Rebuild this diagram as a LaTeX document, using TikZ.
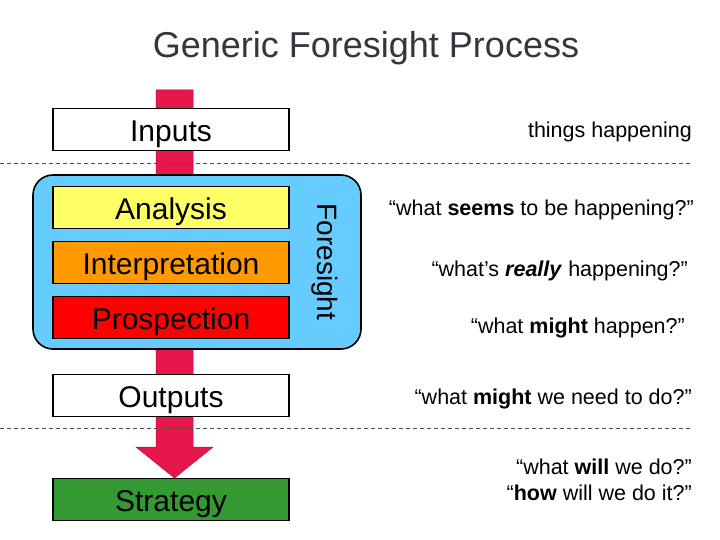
\documentclass[tikz,border=0pt]{standalone}
\usepackage{fontspec}
\setmainfont{Liberation Sans}
\usetikzlibrary{positioning,calc}
\definecolor{flowRed}{HTML}{E8174B}
\definecolor{foreBlue}{HTML}{66CCFF}
\definecolor{anaYellow}{HTML}{FFFF66}
\definecolor{intOrange}{HTML}{FF9900}
\definecolor{proRed}{HTML}{FF0000}
\definecolor{strGreen}{HTML}{339933}
\definecolor{titleGray}{HTML}{35353F}

\tikzset{
  stagebox/.style={draw=black,line width=1.6pt,minimum width=236pt,minimum height=42pt,inner sep=0pt,outer sep=0pt,text height=24pt,text depth=0pt,font=\fontsize{30}{34}\selectfont},
  question/.style={anchor=base east,inner sep=0pt,font=\fontsize{21.5}{26}\selectfont},
  divider/.style={draw=black!70,dash pattern=on 4pt off 3pt,line width=0.6pt},
}

\begin{document}
\begin{tikzpicture}[x=1pt,y=-1pt]
  \useasboundingbox (0,0) rectangle (720,540);
  \node[anchor=base,inner sep=0pt,font=\fontsize{36}{40}\selectfont,text=titleGray] (title) at (366,58) {Generic Foresight Process};

  % main flow arrow, behind everything else
  \coordinate (top) at (174.5,90);
  \coordinate (tip) at (174.5,478);
  \filldraw[fill=flowRed,draw=flowRed!75!black,line width=0.5pt]
    ($(top)+(-18.5,0)$) -- ($(tip)+(-18.5,-31)$) -- ($(tip)+(-38.5,-31)$) -- (tip)
    -- ($(tip)+(38.5,-31)$) -- ($(tip)+(18.5,-31)$) -- ($(top)+(18.5,0)$) -- cycle;

  % separators
  \draw[divider] (0,163) -- (692,163);
  \draw[divider] (0,428) -- (692,428);

  % foresight frame
  \node[draw=black,line width=1.6pt,fill=foreBlue,rounded corners=20pt,minimum width=328pt,minimum height=174pt] (fore) at (197,262) {};
  \node[rotate=-90,inner sep=0pt,font=\fontsize{28}{32}\selectfont] (foreLabel) at (325,262) {Foresight};

  % stages
  \node[stagebox,fill=white] (inputs) at (171,129.5) {Inputs};
  \node[stagebox,fill=anaYellow,below=36pt of inputs] (analysis) {Analysis};
  \node[stagebox,fill=intOrange,below=13pt of analysis] (interp) {Interpretation};
  \node[stagebox,fill=proRed,below=13pt of interp] (prosp) {Prospection};
  \node[stagebox,fill=white,below=36pt of prosp] (outputs) {Outputs};
  \node[stagebox,fill=strGreen,below=62pt of outputs] (strategy) {Strategy};

  % questions on the right
  \node[question] (qInputs) at (692,138) {things happening};
  \node[question] (qAnalysis) at (694,215) {“what \textbf{seems} to be happening?”};
  \node[question] (qInterp) at (688,276) {“what’s \textbf{\textit{really}} happening?”};
  \node[question] (qProsp) at (685,333) {“what \textbf{might} happen?”};
  \node[question] (qOutputs) at (692,404) {“what \textbf{might} we need to do?”};
  \node[question] (qWill) at (692,474) {“what \textbf{will} we do?”};
  \node[question] (qHow) at (692,500) {“\textbf{how} will we do it?”};
\end{tikzpicture}
\end{document}
